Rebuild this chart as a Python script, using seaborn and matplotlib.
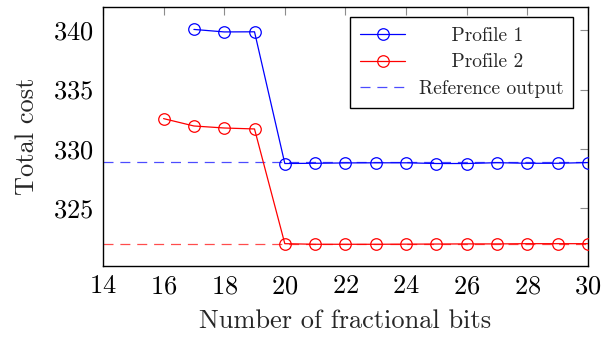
import matplotlib
matplotlib.use("Agg")
import matplotlib.pyplot as plt
import seaborn as sns
import pandas as pd

# ---- data ----
bits_p1 = [17, 18, 19, 20, 21, 22, 23, 24, 25, 26, 27, 28, 29, 30]
cost_p1 = [340.06, 339.85, 339.86, 328.77, 328.79, 328.82, 328.83, 328.83,
           328.77, 328.77, 328.84, 328.79, 328.79, 328.85]
bits_p2 = [16, 17, 18, 19, 20, 21, 22, 23, 24, 25, 26, 27, 28, 29, 30]
cost_p2 = [332.55, 331.93, 331.76, 331.68, 322.02, 321.97, 321.97, 321.97,
           321.98, 321.99, 322.0, 322.0, 322.02, 322.02, 322.02]
ref_p1 = 328.9
ref_p2 = 322.0
labels = ["Profile 1", "Profile 2", "Reference output"]
xticks = [14, 16, 18, 20, 22, 24, 26, 28, 30]
yticks = [325, 330, 335, 340]

sns.set_theme(style="white")
plt.rcParams["font.family"] = ["cmr10", "DejaVu Serif"]
plt.rcParams["mathtext.fontset"] = "cm"
plt.rcParams["axes.formatter.use_mathtext"] = True

fig = plt.figure(figsize=(6.13, 3.38), dpi=100)
ax = fig.add_axes([0.168, 0.213, 0.791, 0.766])

df1 = pd.DataFrame({"bits": bits_p1, "cost": cost_p1})
df2 = pd.DataFrame({"bits": bits_p2, "cost": cost_p2})

dash = (0, (8, 5.5))
ax.axhline(ref_p2, color=(1, 0, 0), ls=dash, lw=0.9, alpha=0.7, zorder=1)
ax.axhline(ref_p1, color=(0, 0, 1), ls=dash, lw=0.9, alpha=0.7, zorder=1,
           label=labels[2])

sns.lineplot(data=df1, x="bits", y="cost", ax=ax, color=(0, 0, 1), marker="o",
             markersize=8.3, markerfacecolor="none", markeredgecolor=(0, 0, 1),
             markeredgewidth=0.9, lw=0.9, label=labels[0], zorder=3)
sns.lineplot(data=df2, x="bits", y="cost", ax=ax, color=(1, 0, 0), marker="o",
             markersize=8.3, markerfacecolor="none", markeredgecolor=(1, 0, 0),
             markeredgewidth=0.9, lw=0.9, label=labels[1], zorder=3)

ax.set_xlim(14, 30)
ax.set_ylim(320.14, 341.94)
ax.set_xticks(xticks)
ax.set_yticks(yticks)
ax.set_xlabel("Number of fractional bits", fontsize=19, labelpad=8)
ax.set_ylabel("Total cost", fontsize=19, labelpad=10)
ax.tick_params(axis="both", direction="in", top=True, right=True, length=6,
               width=0.8, color="0.55", labelsize=19, labelcolor="black")
ax.tick_params(axis="x", pad=6)
ax.tick_params(axis="y", pad=7)
for s in ax.spines.values():
    s.set_color("black")
    s.set_linewidth(1.0)
    s.set_visible(True)

handles, labs = ax.get_legend_handles_labels()
order = [labs.index(l) for l in labels]
pretty = ["     " + labels[0], "     " + labels[1], labels[2]]
leg = ax.legend([handles[i] for i in order], pretty, loc="upper right",
                bbox_to_anchor=(1 - 15 / 485, 1 - 10 / 259), borderaxespad=0,
                fontsize=14, frameon=True, fancybox=False, framealpha=1,
                edgecolor="black", handlelength=2.3, borderpad=0.5,
                labelspacing=0.45, handletextpad=0.7)
leg.get_frame().set_linewidth(1.0)

fig.savefig("out.png", dpi=100)
